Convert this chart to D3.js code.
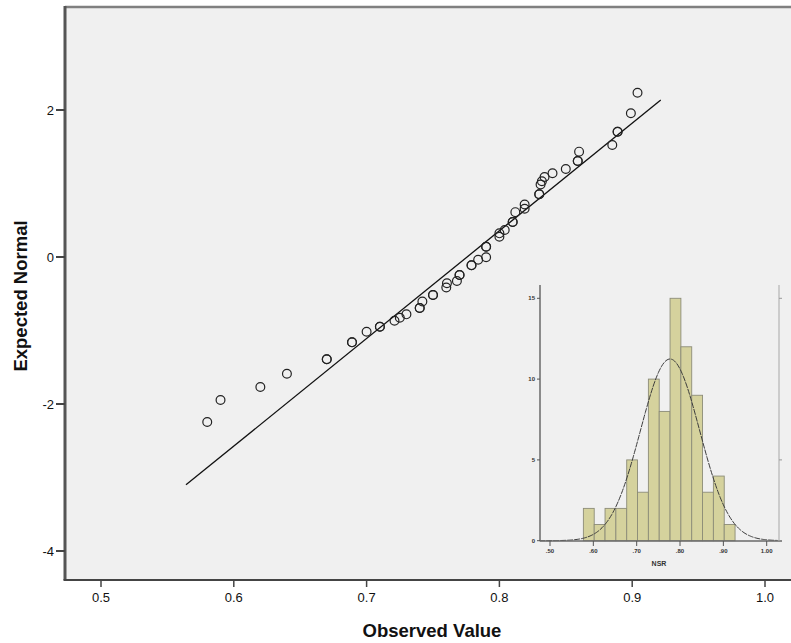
<!DOCTYPE html>
<html>
<head>
<meta charset="utf-8">
<script src="https://cdn.jsdelivr.net/npm/d3@7"></script>
<style>
    body { margin: 0; background: #fff; }
    text { font-family: "Liberation Sans", Arial, sans-serif; }
</style>
</head>
<body>
<script>
// Q-Q plot points (observed value, expected normal); repeated rows are tied cases
let observed = [0.580, 0.590, 0.620, 0.640, 0.670, 0.670, 0.689, 0.689, 0.700, 0.710, 0.710,
    0.721, 0.725, 0.730, 0.740, 0.740, 0.742, 0.750, 0.750, 0.760, 0.7605, 0.768, 0.770, 0.770,
    0.779, 0.779, 0.784, 0.790, 0.790, 0.790, 0.800, 0.800, 0.804, 0.810, 0.810, 0.812, 0.819,
    0.819, 0.830, 0.830, 0.831, 0.832, 0.834, 0.840, 0.850, 0.859, 0.859, 0.860, 0.885, 0.889,
    0.889, 0.899, 0.904];
let expected = [-2.245, -1.946, -1.769, -1.588, -1.392, -1.392, -1.161, -1.161, -1.016, -0.948, -0.948,
    -0.867, -0.826, -0.780, -0.694, -0.694, -0.605, -0.517, -0.517, -0.415, -0.358, -0.327, -0.245, -0.245,
    -0.113, -0.113, -0.037, -0.003, 0.140, 0.140, 0.276, 0.322, 0.367, 0.476, 0.476, 0.610, 0.656,
    0.714, 0.853, 0.853, 0.986, 1.030, 1.088, 1.139, 1.197, 1.306, 1.306, 1.433, 1.524, 1.705,
    1.705, 1.955, 2.235];

// reference line end points
let lineObserved = [0.564, 0.9215];
let lineExpected = [-3.10, 2.136];

let xTicks = [0.5, 0.6, 0.7, 0.8, 0.9, 1.0];
let yTicks = [-4, -2, 0, 2];

// inset histogram
let binStart = 0.577,
    binWidth = 0.025;
let binCounts = [2, 1, 2, 2, 5, 3, 10, 8, 15, 12, 9, 3, 4, 1];
let insetXTicks = [0.5, 0.6, 0.7, 0.8, 0.9, 1.0];
let insetXLabels = [".50", ".60", ".70", ".80", ".90", "1.00"];
let insetYTicks = [0, 5, 10, 15];
let curveMean = 0.777,
    curveSd = 0.0683;

window.onload = function() {
    let w = 791,
        h = 643;

    let svg = d3.select("body")
        .append("svg")
        .attr("width", w)
        .attr("height", h);

    let left = 65, top = 7, right = 791, bottom = 580;

    let x = d3.scaleLinear()
        .domain([0.5, 1.0])
        .range([101, 765]);

    let y = d3.scaleLinear()
        .domain([-4, 2])
        .range([551, 110]);

    // plot background
    svg.append("rect")
        .attr("x", left)
        .attr("y", top)
        .attr("width", right - left)
        .attr("height", bottom - top)
        .style("fill", "#f0f0f0");

    // top border
    svg.append("line")
        .attr("x1", left).attr("x2", right)
        .attr("y1", top).attr("y2", top)
        .style("stroke", "#808080")
        .style("stroke-width", 2.5);

    // ---- inset histogram ----
    let ix = d3.scaleLinear()
        .domain([0.5, 1.0])
        .range([550, 766.7]);

    let iy = d3.scaleLinear()
        .domain([0, 15])
        .range([540.7, 298.3]);

    let bins = binCounts.map(function(c, i) {
        return { x0: binStart + i * binWidth, x1: binStart + (i + 1) * binWidth, count: c };
    });

    svg.selectAll(".bar")
        .data(bins)
        .enter()
        .append("rect")
        .attr("class", "bar")
        .attr("x", function(d) { return ix(d.x0); })
        .attr("width", function(d) { return ix(d.x1) - ix(d.x0); })
        .attr("y", function(d) { return iy(d.count); })
        .attr("height", function(d) { return iy(0) - iy(d.count); })
        .style("fill", "#d5d29d")
        .style("stroke", "#8c8c78")
        .style("stroke-width", 0.9);

    // fitted normal curve
    let total = d3.sum(binCounts);
    let curveX = d3.range(0.475, 1.026, 0.0025);
    let curve = d3.line()
        .x(function(d) { return ix(d); })
        .y(function(d) {
            let z = (d - curveMean) / curveSd;
            return iy(total * binWidth / (curveSd * Math.sqrt(2 * Math.PI)) * Math.exp(-z * z / 2));
        });

    svg.append("path")
        .datum(curveX)
        .attr("d", curve)
        .style("fill", "none")
        .style("stroke", "#3c3c3c")
        .style("stroke-width", 1)
        .style("stroke-dasharray", "6,1");

    // inset axes
    svg.append("line")
        .attr("x1", 540).attr("x2", 540)
        .attr("y1", 285).attr("y2", 541)
        .style("stroke", "#6a6a6a")
        .style("stroke-width", 1.5);
    svg.append("line")
        .attr("x1", 540).attr("x2", 782)
        .attr("y1", 541).attr("y2", 541)
        .style("stroke", "#6a6a6a")
        .style("stroke-width", 1.5);
    svg.append("line")
        .attr("x1", 779).attr("x2", 779)
        .attr("y1", 285).attr("y2", 541)
        .style("stroke", "#a8a8a8")
        .style("stroke-width", 1);

    svg.selectAll(".iyTick")
        .data(insetYTicks)
        .enter()
        .append("line")
        .attr("class", "iyTick")
        .attr("x1", 537).attr("x2", 540)
        .attr("y1", function(d) { return iy(d); })
        .attr("y2", function(d) { return iy(d); })
        .style("stroke", "#555");

    svg.selectAll(".iyRTick")
        .data([5, 15])
        .enter()
        .append("line")
        .attr("class", "iyRTick")
        .attr("x1", 779).attr("x2", 782)
        .attr("y1", function(d) { return iy(d); })
        .attr("y2", function(d) { return iy(d); })
        .style("stroke", "#999");

    svg.selectAll(".iyLabel")
        .data(insetYTicks)
        .enter()
        .append("text")
        .attr("class", "iyLabel")
        .attr("x", 535)
        .attr("y", function(d) { return iy(d) + 2; })
        .attr("text-anchor", "end")
        .style("font-size", "6px")
        .style("font-weight", "bold")
        .style("fill", "#333")
        .text(function(d) { return d; });

    svg.selectAll(".ixTick")
        .data(insetXTicks)
        .enter()
        .append("line")
        .attr("class", "ixTick")
        .attr("x1", function(d) { return ix(d); })
        .attr("x2", function(d) { return ix(d); })
        .attr("y1", 541).attr("y2", 546)
        .style("stroke", "#555");

    svg.selectAll(".ixLabel")
        .data(insetXTicks)
        .enter()
        .append("text")
        .attr("class", "ixLabel")
        .attr("x", function(d) { return ix(d); })
        .attr("y", 553)
        .attr("text-anchor", "middle")
        .style("font-size", "6px")
        .style("font-weight", "bold")
        .style("fill", "#333")
        .text(function(d, i) { return insetXLabels[i]; });

    svg.append("text")
        .attr("x", 659)
        .attr("y", 566)
        .attr("text-anchor", "middle")
        .style("font-size", "7px")
        .style("font-weight", "bold")
        .style("fill", "#333")
        .text("NSR");

    // ---- Q-Q plot ----
    svg.append("line")
        .attr("x1", x(lineObserved[0]))
        .attr("y1", y(lineExpected[0]))
        .attr("x2", x(lineObserved[1]))
        .attr("y2", y(lineExpected[1]))
        .style("stroke", "#111")
        .style("stroke-width", 1.3);

    let points = observed.map(function(d, i) {
        return { obs: d, exp: expected[i] };
    });

    svg.selectAll(".pt")
        .data(points)
        .enter()
        .append("circle")
        .attr("class", "pt")
        .attr("cx", function(d) { return x(d.obs); })
        .attr("cy", function(d) { return y(d.exp); })
        .attr("r", 4.4)
        .style("fill", "none")
        .style("stroke", "#222")
        .style("stroke-width", 1.2);

    // left axis
    svg.append("line")
        .attr("x1", left).attr("x2", left)
        .attr("y1", top - 1).attr("y2", bottom)
        .style("stroke", "#555")
        .style("stroke-width", 3);

    svg.selectAll(".yTick")
        .data(yTicks)
        .enter()
        .append("line")
        .attr("class", "yTick")
        .attr("x1", 56).attr("x2", left)
        .attr("y1", function(d) { return y(d); })
        .attr("y2", function(d) { return y(d); })
        .style("stroke", "#444")
        .style("stroke-width", 2);

    svg.selectAll(".yLabel")
        .data(yTicks)
        .enter()
        .append("text")
        .attr("class", "yLabel")
        .attr("x", 54)
        .attr("y", function(d) { return y(d) + 5; })
        .attr("text-anchor", "end")
        .style("font-size", "13px")
        .style("fill", "#111")
        .text(function(d) { return d; });

    // bottom axis
    svg.append("line")
        .attr("x1", left - 1.5).attr("x2", right)
        .attr("y1", bottom).attr("y2", bottom)
        .style("stroke", "#444")
        .style("stroke-width", 2);

    svg.selectAll(".xTick")
        .data(xTicks)
        .enter()
        .append("line")
        .attr("class", "xTick")
        .attr("x1", function(d) { return x(d); })
        .attr("x2", function(d) { return x(d); })
        .attr("y1", bottom).attr("y2", bottom + 7)
        .style("stroke", "#444")
        .style("stroke-width", 1.5);

    let fmt = d3.format(".1f");
    svg.selectAll(".xLabel")
        .data(xTicks)
        .enter()
        .append("text")
        .attr("class", "xLabel")
        .attr("x", function(d) { return x(d); })
        .attr("y", 602)
        .attr("text-anchor", "middle")
        .style("font-size", "13px")
        .style("fill", "#111")
        .text(function(d) { return fmt(d); });

    // axis titles
    svg.append("text")
        .attr("x", 432)
        .attr("y", 637)
        .attr("text-anchor", "middle")
        .style("font-size", "18.5px")
        .style("font-weight", "bold")
        .style("fill", "#111")
        .text("Observed Value");

    svg.append("text")
        .attr("transform", "translate(27, 296) rotate(-90)")
        .attr("text-anchor", "middle")
        .style("font-size", "18.5px")
        .style("font-weight", "bold")
        .style("fill", "#111")
        .text("Expected Normal");
};
</script>
</body>
</html>
